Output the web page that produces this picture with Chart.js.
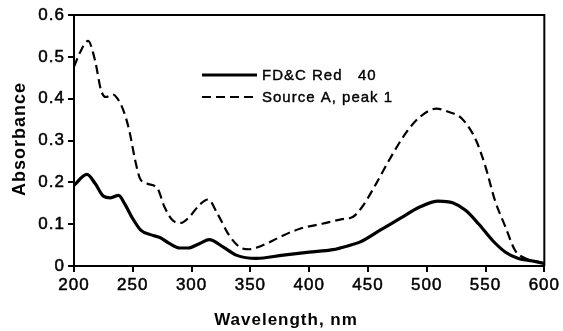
<!DOCTYPE html>
<html>
<head>
<meta charset="utf-8">
<script src="https://cdn.jsdelivr.net/npm/chart.js@4/dist/chart.umd.min.js"></script>
<style>
  html, body { margin: 0; padding: 0; background: #fff; }
  #wrap { width: 563px; height: 331px; }
</style>
</head>
<body>
<div id="wrap"><canvas id="c" width="563" height="331"></canvas></div>
<script>
// Absorption spectra: FD&C Red 40 standard vs. Source A, peak 1
const redWavelengths = [200, 211, 218, 225, 231, 238, 243, 250, 257, 265, 273, 281, 290, 297, 307, 315, 327, 338, 355, 378, 400, 420, 434, 443, 460, 477, 494, 510, 522, 533, 544, 556, 567, 578, 590, 600];
const redAbsorbance  = [0.193, 0.219, 0.197, 0.167, 0.163, 0.169, 0.149, 0.113, 0.085, 0.075, 0.068, 0.054, 0.043, 0.043, 0.054, 0.063, 0.045, 0.026, 0.018, 0.026, 0.033, 0.039, 0.049, 0.057, 0.085, 0.113, 0.141, 0.155, 0.151, 0.133, 0.101, 0.061, 0.033, 0.018, 0.012, 0.006];

const sourceWavelengths = [200, 205, 212, 218, 223, 227, 233, 237, 242, 247, 252, 256, 262, 271, 277, 284, 291, 298, 307, 314, 322, 332, 341, 349, 360, 375, 392, 411, 428, 437, 445, 457, 468, 482, 494, 508, 519, 530, 542, 550, 558, 567, 575, 584, 595, 600];
const sourceAbsorbance  = [0.476, 0.51, 0.538, 0.49, 0.42, 0.404, 0.41, 0.40, 0.372, 0.324, 0.253, 0.21, 0.197, 0.185, 0.141, 0.109, 0.103, 0.117, 0.147, 0.159, 0.125, 0.073, 0.045, 0.040, 0.049, 0.069, 0.089, 0.101, 0.112, 0.117, 0.141, 0.197, 0.253, 0.317, 0.356, 0.376, 0.368, 0.352, 0.30, 0.237, 0.157, 0.093, 0.038, 0.018, 0.010, 0.006];

const seriesNames = ['FD&C Red   40', 'Source A, peak 1'];
const xTickValues = [200, 250, 300, 350, 400, 450, 500, 550, 600];
const yTickValues = [0, 0.1, 0.2, 0.3, 0.4, 0.5, 0.6];
const yTickLabels = ['0', '0.1', '0.2', '0.3', '0.4', '0.5', '0.6'];
const xTitle = 'Wavelength, nm';
const yTitle = 'Absorbance';

const FONT = '"Liberation Sans", Arial, Helvetica, sans-serif';
const INK = '#000';

function toPoints(xs, ys) { return xs.map((x, i) => ({ x: x, y: ys[i] })); }

// Slightly widened tracking for all canvas text
const tracking = {
  id: 'tracking',
  beforeUpdate(chart) { chart.ctx.letterSpacing = '1px'; },
  beforeDraw(chart) { chart.ctx.letterSpacing = '1px'; }
};

// Closes the frame, draws the in-plot legend and the axis titles
const decorations = {
  id: 'decorations',
  afterDraw(chart) {
    const ctx = chart.ctx;
    const a = chart.chartArea;
    ctx.save();
    ctx.strokeStyle = INK;
    ctx.lineWidth = 2;
    ctx.beginPath();
    ctx.moveTo(a.left, a.top);
    ctx.lineTo(a.right, a.top);
    ctx.lineTo(a.right, a.bottom);
    ctx.stroke();

    // legend
    const rows = [75, 97];
    chart.data.datasets.forEach((ds, i) => {
      const y = rows[i];
      ctx.beginPath();
      ctx.lineWidth = ds.borderWidth;
      ctx.setLineDash(ds.borderDash || []);
      ctx.moveTo(202, y);
      ctx.lineTo(257, y);
      ctx.stroke();
      ctx.setLineDash([]);
      ctx.fillStyle = INK;
      ctx.font = '15px ' + FONT;
      ctx.textAlign = 'left';
      ctx.textBaseline = 'middle';
      ctx.lineWidth = 0.4;
      ctx.fillText(ds.label, 262, y + 1);
      ctx.strokeText(ds.label, 262, y + 1);
    });

    // axis titles
    ctx.fillStyle = INK;
    ctx.font = 'bold 17px ' + FONT;
    ctx.textAlign = 'center';
    ctx.textBaseline = 'alphabetic';
    ctx.fillText(xTitle, 286, 325);

    ctx.translate(25, 139);
    ctx.rotate(-Math.PI / 2);
    ctx.font = 'bold 18px ' + FONT;
    ctx.fillText(yTitle, 0, 0);
    ctx.restore();
  }
};

const tickFont = { family: FONT, size: 17 };

new Chart(document.getElementById('c'), {
  type: 'line',
  data: {
    datasets: [
      {
        label: seriesNames[0],
        data: toPoints(redWavelengths, redAbsorbance),
        borderColor: INK,
        borderWidth: 3.2,
        pointRadius: 0,
        tension: 0.4,
        cubicInterpolationMode: 'monotone',
        fill: false
      },
      {
        label: seriesNames[1],
        data: toPoints(sourceWavelengths, sourceAbsorbance),
        borderColor: INK,
        borderWidth: 2.2,
        borderDash: [9, 5],
        pointRadius: 0,
        tension: 0.4,
        cubicInterpolationMode: 'monotone',
        fill: false
      }
    ]
  },
  options: {
    responsive: false,
    animation: false,
    devicePixelRatio: 1,
    layout: { padding: { top: 15, right: 17, left: 0, bottom: 0 } },
    plugins: { legend: { display: false }, tooltip: { enabled: false } },
    scales: {
      x: {
        type: 'linear',
        min: 200,
        max: 600,
        afterBuildTicks(scale) { scale.ticks = xTickValues.map(v => ({ value: v })); },
        afterFit(scale) { scale.height = 65; },
        grid: { display: true, drawOnChartArea: false, drawTicks: true, tickLength: 6, color: INK, lineWidth: 2 },
        border: { display: true, color: INK, width: 2 },
        ticks: { color: INK, font: tickFont, padding: 3, maxRotation: 0, autoSkip: false, textStrokeColor: INK, textStrokeWidth: 0.5 }
      },
      y: {
        type: 'linear',
        min: 0,
        max: 0.6,
        afterBuildTicks(scale) { scale.ticks = yTickValues.map(v => ({ value: v })); },
        afterFit(scale) { scale.width = 74; },
        grid: { display: true, drawOnChartArea: false, drawTicks: true, tickLength: 6, color: INK, lineWidth: 2 },
        border: { display: true, color: INK, width: 2 },
        ticks: {
          color: INK,
          font: tickFont,
          padding: 3,
          textStrokeColor: INK,
          textStrokeWidth: 0.5,
          callback(value) {
            const i = yTickValues.findIndex(v => Math.abs(v - value) < 1e-9);
            return i >= 0 ? yTickLabels[i] : '';
          }
        }
      }
    }
  },
  plugins: [tracking, decorations]
});
</script>
</body>
</html>
